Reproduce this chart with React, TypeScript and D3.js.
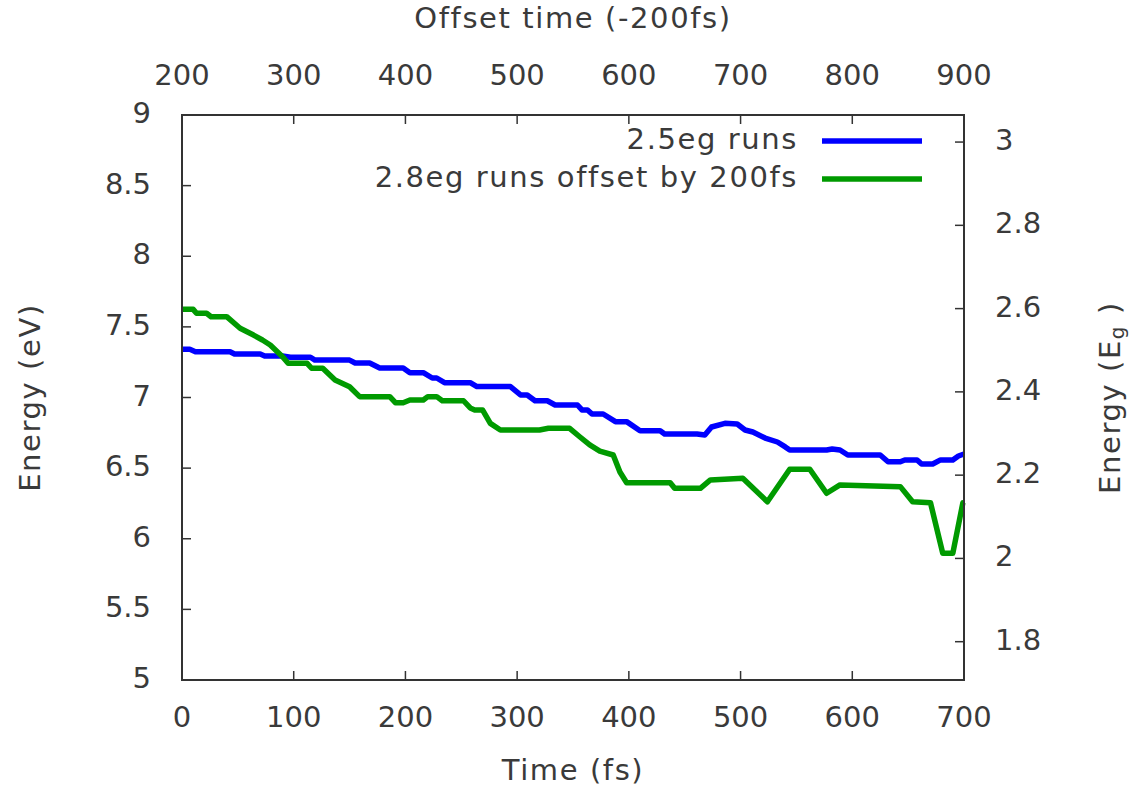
import React from "react";
import * as d3 from "d3";

const blueT = [0,7,12,43,47,70,74,90,97,115,119,150,155,168,177,198,204,216,224,228,235,258,264,294,303,309,316,327,334,354,358,363,367,377,388,398,410,428,432,461,468,474,486,497,504,511,522,533,540,544,577,582,589,596,625,632,643,647,658,662,672,679,690,695,700];
const blueE = [7.341,7.341,7.324,7.324,7.308,7.308,7.294,7.294,7.285,7.285,7.265,7.265,7.244,7.244,7.209,7.209,7.176,7.176,7.138,7.138,7.105,7.105,7.077,7.077,7.018,7.018,6.977,6.977,6.947,6.947,6.912,6.912,6.883,6.883,6.829,6.829,6.765,6.765,6.742,6.742,6.735,6.791,6.817,6.812,6.770,6.756,6.713,6.685,6.650,6.628,6.628,6.635,6.628,6.593,6.593,6.545,6.545,6.558,6.558,6.529,6.529,6.558,6.558,6.586,6.600];

const greenT = [0,10,13,22,26,40,52,64,72,79,90,95,112,116,126,137,150,159,186,191,198,204,216,220,228,233,252,258,262,269,276,285,320,328,347,356,365,374,386,392,398,437,441,464,473,502,524,544,562,577,589,643,654,670,681,690,699,700];
const greenE = [7.624,7.624,7.596,7.596,7.572,7.572,7.490,7.442,7.407,7.372,7.289,7.242,7.242,7.207,7.207,7.124,7.076,7.006,7.006,6.963,6.963,6.982,6.982,7.006,7.006,6.977,6.977,6.926,6.912,6.912,6.817,6.770,6.770,6.782,6.782,6.722,6.664,6.621,6.593,6.473,6.397,6.397,6.357,6.357,6.416,6.428,6.262,6.492,6.492,6.322,6.381,6.369,6.262,6.255,5.897,5.897,6.255,6.255];

const xTicks = [0,100,200,300,400,500,600,700];
const x2Ticks = [200,300,400,500,600,700,800,900];
const yTicks = [5,5.5,6,6.5,7,7.5,8,8.5,9];
const y2Ticks = [1.8,2,2.2,2.4,2.6,2.8,3];

const seriesNames = ["2.5eg runs", "2.8eg runs offset by 200fs"];
const seriesColors = ["#0000ff", "#009a00"];

const W = 1135, H = 793;
const L = 182, R = 964, T = 115, B = 680;
const FONT = "DejaVu Sans";
const FS = 29;
const TXT = "#3a3a3a";
const LS = 1.6;

export default function App() {
  const x = d3.scaleLinear().domain([0, 700]).range([L, R]);
  const x2 = d3.scaleLinear().domain([200, 900]).range([L, R]);
  const y = d3.scaleLinear().domain([5, 9]).range([B, T]);
  const y2 = d3.scaleLinear().domain([1.708, 3.065]).range([B, T]);
  const line = d3.line<[number, number]>().x(d => x(d[0])).y(d => y(d[1]));
  const blue = blueT.map((t, i) => [t, blueE[i]] as [number, number]);
  const green = greenT.map((t, i) => [t, greenE[i]] as [number, number]);
  const tl = 9;
  const fmt = (v: number) => String(v);
  return (
    <svg width={W} height={H} style={{ position: "absolute", left: 0, top: 0, background: "#fff" }} fontFamily={FONT} fontSize={FS} fill={TXT}>
      <rect x={0} y={0} width={W} height={H} fill="#fff" />
      {xTicks.map(v => <line key={"xt" + v} x1={x(v)} x2={x(v)} y1={B} y2={B - tl} stroke="#333" strokeWidth={1.5} />)}
      {x2Ticks.map(v => <line key={"x2t" + v} x1={x2(v)} x2={x2(v)} y1={T} y2={T + tl} stroke="#333" strokeWidth={1.5} />)}
      {yTicks.map(v => <line key={"yt" + v} x1={L} x2={L + tl} y1={y(v)} y2={y(v)} stroke="#333" strokeWidth={1.5} />)}
      {y2Ticks.map(v => <line key={"y2t" + v} x1={R} x2={R - tl} y1={y2(v)} y2={y2(v)} stroke="#333" strokeWidth={1.5} />)}
      {xTicks.map(v => <text key={"xl" + v} x={x(v)} y={717} textAnchor="middle" dominantBaseline="central">{fmt(v)}</text>)}
      {x2Ticks.map(v => <text key={"x2l" + v} x={x2(v)} y={75} textAnchor="middle" dominantBaseline="central">{fmt(v)}</text>)}
      {yTicks.map(v => <text key={"yl" + v} x={151} y={y(v) - 2} textAnchor="end" dominantBaseline="central">{fmt(v)}</text>)}
      {y2Ticks.map(v => <text key={"y2l" + v} x={995} y={y2(v) - 2} textAnchor="start" dominantBaseline="central">{fmt(v)}</text>)}
      <text x={(L + R) / 2} y={18} textAnchor="middle" dominantBaseline="central" letterSpacing={LS}>Offset time (-200fs)</text>
      <text x={(L + R) / 2} y={770} textAnchor="middle" dominantBaseline="central" letterSpacing={LS}>Time (fs)</text>
      <text transform={`translate(30,${(T + B) / 2}) rotate(-90)`} textAnchor="middle" dominantBaseline="central" letterSpacing={LS}>Energy (eV)</text>
      <text transform={`translate(1110,${(T + B) / 2}) rotate(-90)`} textAnchor="middle" dominantBaseline="central" letterSpacing={LS}>Energy (E<tspan fontSize={20} dy={7}>g</tspan><tspan dy={-7}> )</tspan></text>
      <path d={line(blue) || ""} fill="none" stroke={seriesColors[0]} strokeWidth={5.5} strokeLinejoin="round" />
      <path d={line(green) || ""} fill="none" stroke={seriesColors[1]} strokeWidth={5.5} strokeLinejoin="round" />
      {seriesNames.map((n, i) => (
        <g key={n}>
          <text x={798} y={141 + i * 38 - 2} textAnchor="end" dominantBaseline="central" letterSpacing={LS}>{n}</text>
          <line x1={822} x2={922} y1={141 + i * 38} y2={141 + i * 38} stroke={seriesColors[i]} strokeWidth={5.5} />
        </g>
      ))}
      <rect x={L} y={T} width={R - L} height={B - T} fill="none" stroke="#333" strokeWidth={2} />
    </svg>
  );
}
